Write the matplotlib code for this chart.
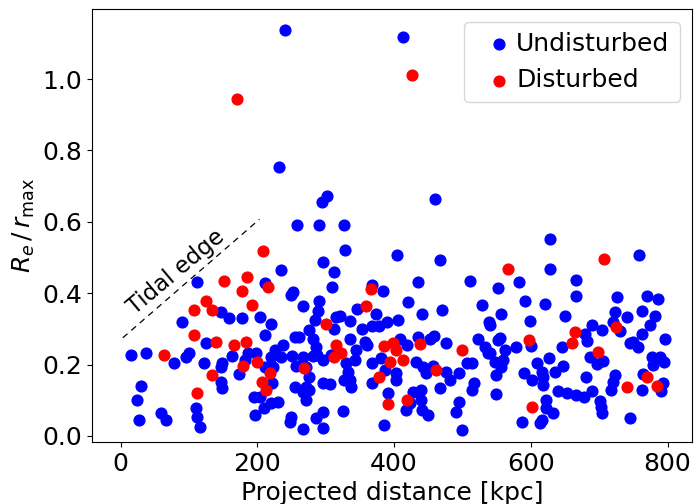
import matplotlib
matplotlib.use("Agg")
import matplotlib.pyplot as plt

# Undisturbed (blue) points: projected distance [kpc], Re/rmax
ud = [
    (231,0.754),(241,1.137),(413.7,1.119),(302,0.672),(294.6,0.655),(460,0.663),(258.5,0.592),(289.8,0.592),(326.8,0.592),
    (14.6,0.228),(37.6,0.233),(30.2,0.140),(23.9,0.102),(26.3,0.046),(59.5,0.065),(66.8,0.044),(78,0.205),(95.1,0.220),
    (100,0.233),(90.2,0.320),(111.7,0.430),(125.4,0.261),(121.9,0.203),(110.7,0.077),(112.2,0.053),(115.6,0.025),
    (146.3,0.348),(158.5,0.331),(148.3,0.203),(147.3,0.193),(146.3,0.151),(148.8,0.133),(162.9,0.223),(172.7,0.173),
    (177.6,0.331),(186.8,0.233),(198.5,0.233),(181.5,0.212),(195.1,0.109),(203.4,0.109),(197.1,0.058),(209.8,0.077),
    (220.5,0.093),(204.4,0.334),(210.7,0.282),(211.7,0.429),(219.5,0.315),(221.5,0.147),(210.7,0.193),(222.9,0.193),
    (235,0.466),
    (328.3,0.522),(404.9,0.508),(467.8,0.494),(296.1,0.488),(312.2,0.458),(435.1,0.430),(511.7,0.433),(309.8,0.418),
    (367.8,0.422),(384,0.406),(252.2,0.402),(249.8,0.394),(289.8,0.378),(266.8,0.365),(420.5,0.375),(529,0.368),
    (345.9,0.355),(470.7,0.352),(441,0.341),(288.8,0.350),(374,0.343),(284,0.326),(315.6,0.332),(320.5,0.336),
    (335.1,0.322),(405.9,0.326),(389.8,0.320),(377.6,0.307),(367.8,0.307),(353.2,0.300),(275.6,0.298),
    (312.2,0.299),(254.6,0.278),(261,0.278),(281.5,0.273),(237.6,0.254),(335.1,0.271),(357.1,0.264),(360.5,0.254),
    (408.3,0.273),(435.1,0.278),(452,0.273),(458.5,0.279),(476.6,0.261),(523,0.271),(419,0.254),(286.3,0.250),
    (225.4,0.240),(251.2,0.223),(266.8,0.221),(281.5,0.223),(287.8,0.226),(296.1,0.214),(308.3,0.226),(344.9,0.240),
    (235.1,0.220),(220.5,0.221),(330.2,0.203),(332.7,0.179),(335.1,0.156),(337.6,0.137),(342.4,0.212),(368.3,0.205),
    (381.5,0.219),(432.7,0.207),(442.4,0.193),(447.3,0.175),(457.1,0.196),(476.6,0.179),(481.5,0.156),(467.8,0.133),
    (495.1,0.175),(506.1,0.205),(513.4,0.205),(537.6,0.231),(256.1,0.196),(271.2,0.193),(276.1,0.165),(271.2,0.137),
    (276.1,0.128),(254.6,0.137),(266.8,0.123),(270.7,0.100),(296.1,0.147),(306.8,0.145),(326.3,0.156),(367.3,0.147),
    (386.3,0.184),(403.4,0.177),(403.4,0.156),(391.2,0.119),(418,0.072),(422.9,0.091),(427.8,0.123),(440,0.128),
    (440,0.100),(441.5,0.072),(449.8,0.058),(495.1,0.095),(491.2,0.067),(500,0.016),(513.4,0.128),(516.6,0.147),
    (385.4,0.032),(325.4,0.069),(296.1,0.067),(296.1,0.021),(285.4,0.049),(249.8,0.053),(247.3,0.039),(266.8,0.019),
    (230.2,0.095),
    (628.8,0.551),(757.6,0.508),(628.3,0.467),(582.4,0.432),(666.3,0.436),(551.7,0.415),(666,0.393),(725.4,0.390),
    (770.7,0.392),(785.4,0.383),(591.2,0.377),(621,0.371),(556.6,0.343),(723.4,0.347),(763.4,0.350),
    (649.3,0.335),(740.5,0.332),(781.4,0.337),(539,0.320),(541,0.311),(598.5,0.322),(720.5,0.320),(730.2,0.294),
    (690.2,0.312),(704.4,0.296),(774.1,0.310),(679,0.287),(762,0.287),(682.2,0.266),(796.1,0.272),(601,0.251),
    (555.6,0.275),(552.2,0.268),(579,0.248),(645.9,0.249),(532.7,0.250),(540,0.231),(562,0.240),(547,0.207),
    (557,0.193),(560,0.212),(749.8,0.264),(757.1,0.250),(745,0.259),(686,0.221),(696.6,0.201),(706.3,0.210),
    (609.7,0.203),(626.8,0.217),(647.3,0.196),(616.1,0.179),(635.1,0.178),(777.6,0.221),(788.8,0.220),(795.1,0.207),
    (779,0.198),(590.2,0.175),(601.5,0.158),(618,0.165),(618,0.142),(548.8,0.172),(680.5,0.165),(723,0.170),
    (720.5,0.151),(718,0.128),(764.4,0.173),(762,0.130),(791.2,0.125),(792.7,0.147),(640.1,0.125),(653.2,0.121),
    (666.8,0.114),(678,0.109),(690.2,0.126),(548.8,0.117),(622.9,0.100),(621.5,0.077),(632.7,0.065),(700.9,0.098),
    (703,0.081),(704,0.065),(745,0.050),(587.3,0.039),(613,0.037),(616,0.044),
]
# Disturbed (red) points
dist = [
    (170.7,0.944),(426,1.011),
    (63.4,0.228),(106.8,0.352),(106.8,0.282),(112.2,0.119),(125.4,0.378),(133.7,0.352),(151.2,0.435),(139,0.264),
    (133.7,0.170),(165.4,0.254),(179.5,0.196),(178,0.406),(184.9,0.446),(192.2,0.366),(183.4,0.264),(200,0.207),
    (206.3,0.151),(213.2,0.130),(215.6,0.418),(208.3,0.518),(219,0.177),
    (366.8,0.411),(358.5,0.365),(301,0.315),(315.6,0.254),(385.4,0.251),(398.5,0.259),(403.4,0.240),(437.6,0.257),
    (499.5,0.240),(311.4,0.221),(322.1,0.231),(393.7,0.206),(413.2,0.212),(462,0.184),(268.3,0.191),(378,0.165),
    (391.2,0.089),(419.5,0.100),
    (707.3,0.497),(565.9,0.467),(723.9,0.305),(664,0.291),(597,0.268),(660.5,0.261),(697.6,0.236),(741,0.136),
    (770,0.165),(784.4,0.140),(601.5,0.081),
]
ud_x = [p[0] for p in ud]
ud_y = [p[1] for p in ud]
d_x = [p[0] for p in dist]
d_y = [p[1] for p in dist]

tidal_x = [3, 203]
tidal_y = [0.275, 0.607]

fig = plt.figure(figsize=(6.97, 5.04), dpi=100)
ax = fig.add_axes([0.132, 0.123, 0.861, 0.859])
ax.scatter(ud_x, ud_y, s=60, color='blue', label='Undisturbed', zorder=3)
ax.scatter(d_x, d_y, s=60, color='red', label='Disturbed', zorder=3)
ax.plot(tidal_x, tidal_y, color='black', ls='--', lw=0.9, dashes=(5, 4))
ax.text(81, 0.458, 'Tidal edge', rotation=40, fontsize=16.5, ha='center', va='center')

ax.set_xlim(-42, 836)
ax.set_ylim(-0.017, 1.196)
ax.set_xticks([0, 200, 400, 600, 800])
ax.set_yticks([0.0, 0.2, 0.4, 0.6, 0.8, 1.0])
ax.tick_params(labelsize=18)
ax.set_xlabel('Projected distance [kpc]', fontsize=18)
ax.set_ylabel(r'$R_e\,/\,r_{\rm max}$', fontsize=18)
ax.legend(loc='upper right', fontsize=18, handletextpad=-0.3, borderpad=0.4, markerscale=1.0)
fig.savefig('out.png', dpi=100)
